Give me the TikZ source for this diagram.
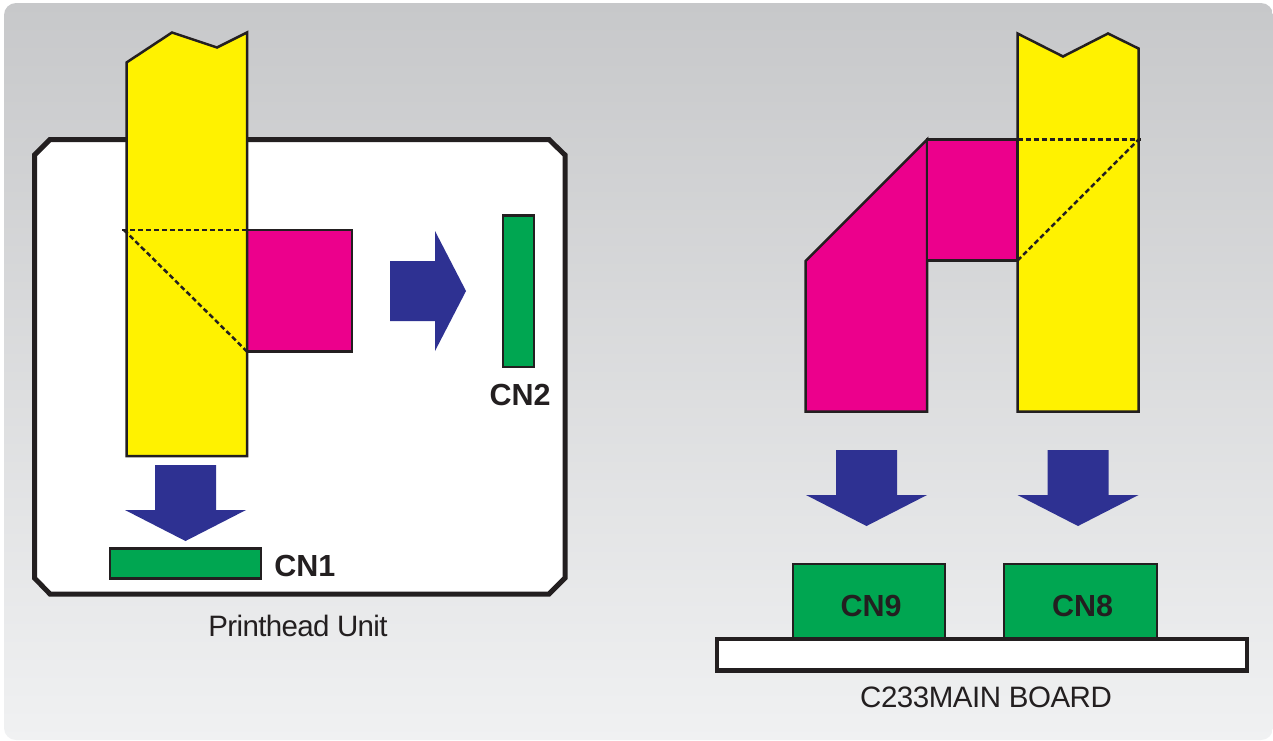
\documentclass[tikz,border=0pt]{standalone}
\usepackage{fontspec}
\setmainfont{Liberation Sans}
\newfontfamily\captionfont[LetterSpace=-2.2]{Liberation Sans}
\newfontfamily\boardfont[LetterSpace=-1.6]{Liberation Sans}
\usetikzlibrary{positioning}
\definecolor{inkblack}{HTML}{231F20}
\definecolor{ribbonyellow}{HTML}{FFF200}
\definecolor{ribbonmagenta}{HTML}{EC008C}
\definecolor{plotgreen}{HTML}{00A651}
\definecolor{arrowblue}{HTML}{2E3192}
\definecolor{bgtop}{HTML}{C7C8CA}
\definecolor{bgbottom}{HTML}{F0F1F2}
\tikzstyle{ribbon}  = [draw=inkblack,line width=2.5pt,line join=miter]
\tikzstyle{fold}    = [draw=inkblack,line width=2.5pt,dash pattern=on 5pt off 3pt]
\tikzstyle{plug}    = [draw=inkblack,line width=2.5pt,fill=plotgreen,inner sep=0pt,text=inkblack,text height=30pt,text depth=0pt,font=\bfseries\fontsize{30.5}{30}\selectfont]
\tikzstyle{plugtag} = [inner sep=0pt,text=inkblack,font=\bfseries\fontsize{30.5}{30}\selectfont]
\tikzstyle{caption} = [inner sep=0pt,anchor=base,text=inkblack,font=\captionfont\fontsize{29.5}{30}\selectfont]
\tikzset{downarrow/.pic={
    \fill[arrowblue] (-30.5,0) -- (30.5,0) -- (30.5,45) -- (60.5,45) -- (0,76) -- (-60.5,45) -- (-30.5,45) -- cycle;
}}

\begin{document}
\begin{tikzpicture}[x=1pt,y=-1pt]

\useasboundingbox (0,0) rectangle (1273,740);
\shade[top color=bgtop,bottom color=bgbottom,rounded corners=12pt] (4,3) rectangle (1273,740);

% printhead unit
\draw[draw=inkblack,fill=white,line width=5pt,line join=miter]
    (50,139.5) -- (549,139.5) -- (565,155) -- (565,578) -- (549,594) -- (50,594) -- (34.5,578) -- (34.5,155) -- cycle;

\filldraw[ribbon,fill=ribbonmagenta] (247,230) rectangle (352,351.5);
\filldraw[ribbon,fill=ribbonyellow]
    (126.5,62.5) -- (172,32.5) -- (217,47.5) -- (247,32.5) -- (247,456) -- (126.5,456) -- cycle;
\draw[fold] (122,230) -- (247,230);
\draw[fold] (124,230) -- (247,351.5);

\fill[arrowblue] (390,261) -- (435,261) -- (435,231) -- (466,291) -- (435,351) -- (435,321) -- (390,321) -- cycle;
\pic at (185.5,465) {downarrow};

\node[plug,minimum width=151pt,minimum height=30pt] (CN1) at (185.5,563.5) {};
\node[plug,minimum width=31pt,minimum height=151.5pt] (CN2) at (518.5,291.25) {};
\node[plugtag] (CN1tag) [right=12pt of CN1,yshift=-2.5pt] {CN1};
\node[plugtag] (CN2tag) [below=16pt of CN2,xshift=1.5pt] {CN2};
\node[caption] (unitname) at (298,636) {Printhead Unit};

% main board
\filldraw[ribbon,fill=ribbonmagenta] (805.5,261) -- (927,139.5) -- (927,411.5) -- (805.5,411.5) -- cycle;
\filldraw[ribbon,fill=ribbonmagenta] (927,139.5) rectangle (1017.5,260.5);
\filldraw[ribbon,fill=ribbonyellow]
    (1017.5,33.5) -- (1063,56.5) -- (1108,33.5) -- (1138.5,48.5) -- (1138.5,411.5) -- (1017.5,411.5) -- cycle;
\draw[fold] (1017.5,139.5) -- (1141,139.5);
\draw[fold] (1017.5,260.5) -- (1138.5,139.5);

\pic at (866.5,450) {downarrow};
\pic at (1078,450) {downarrow};

\node[plug,minimum width=152pt,minimum height=75pt] (CN9) at (869,601.5) {\hspace*{4pt}CN9};
\node[plug,minimum width=153pt,minimum height=75pt] (CN8) at (1080.5,601.5) {\hspace*{4pt}CN8};
\node[draw=inkblack,fill=white,line width=4.5pt,inner sep=0pt,minimum width=530pt,minimum height=31.5pt] (board) at (982,654.75) {};
\node[caption,font=\boardfont\fontsize{29.5}{30}\selectfont] (boardname) at (986,707) {C233MAIN BOARD};

\end{tikzpicture}
\end{document}
